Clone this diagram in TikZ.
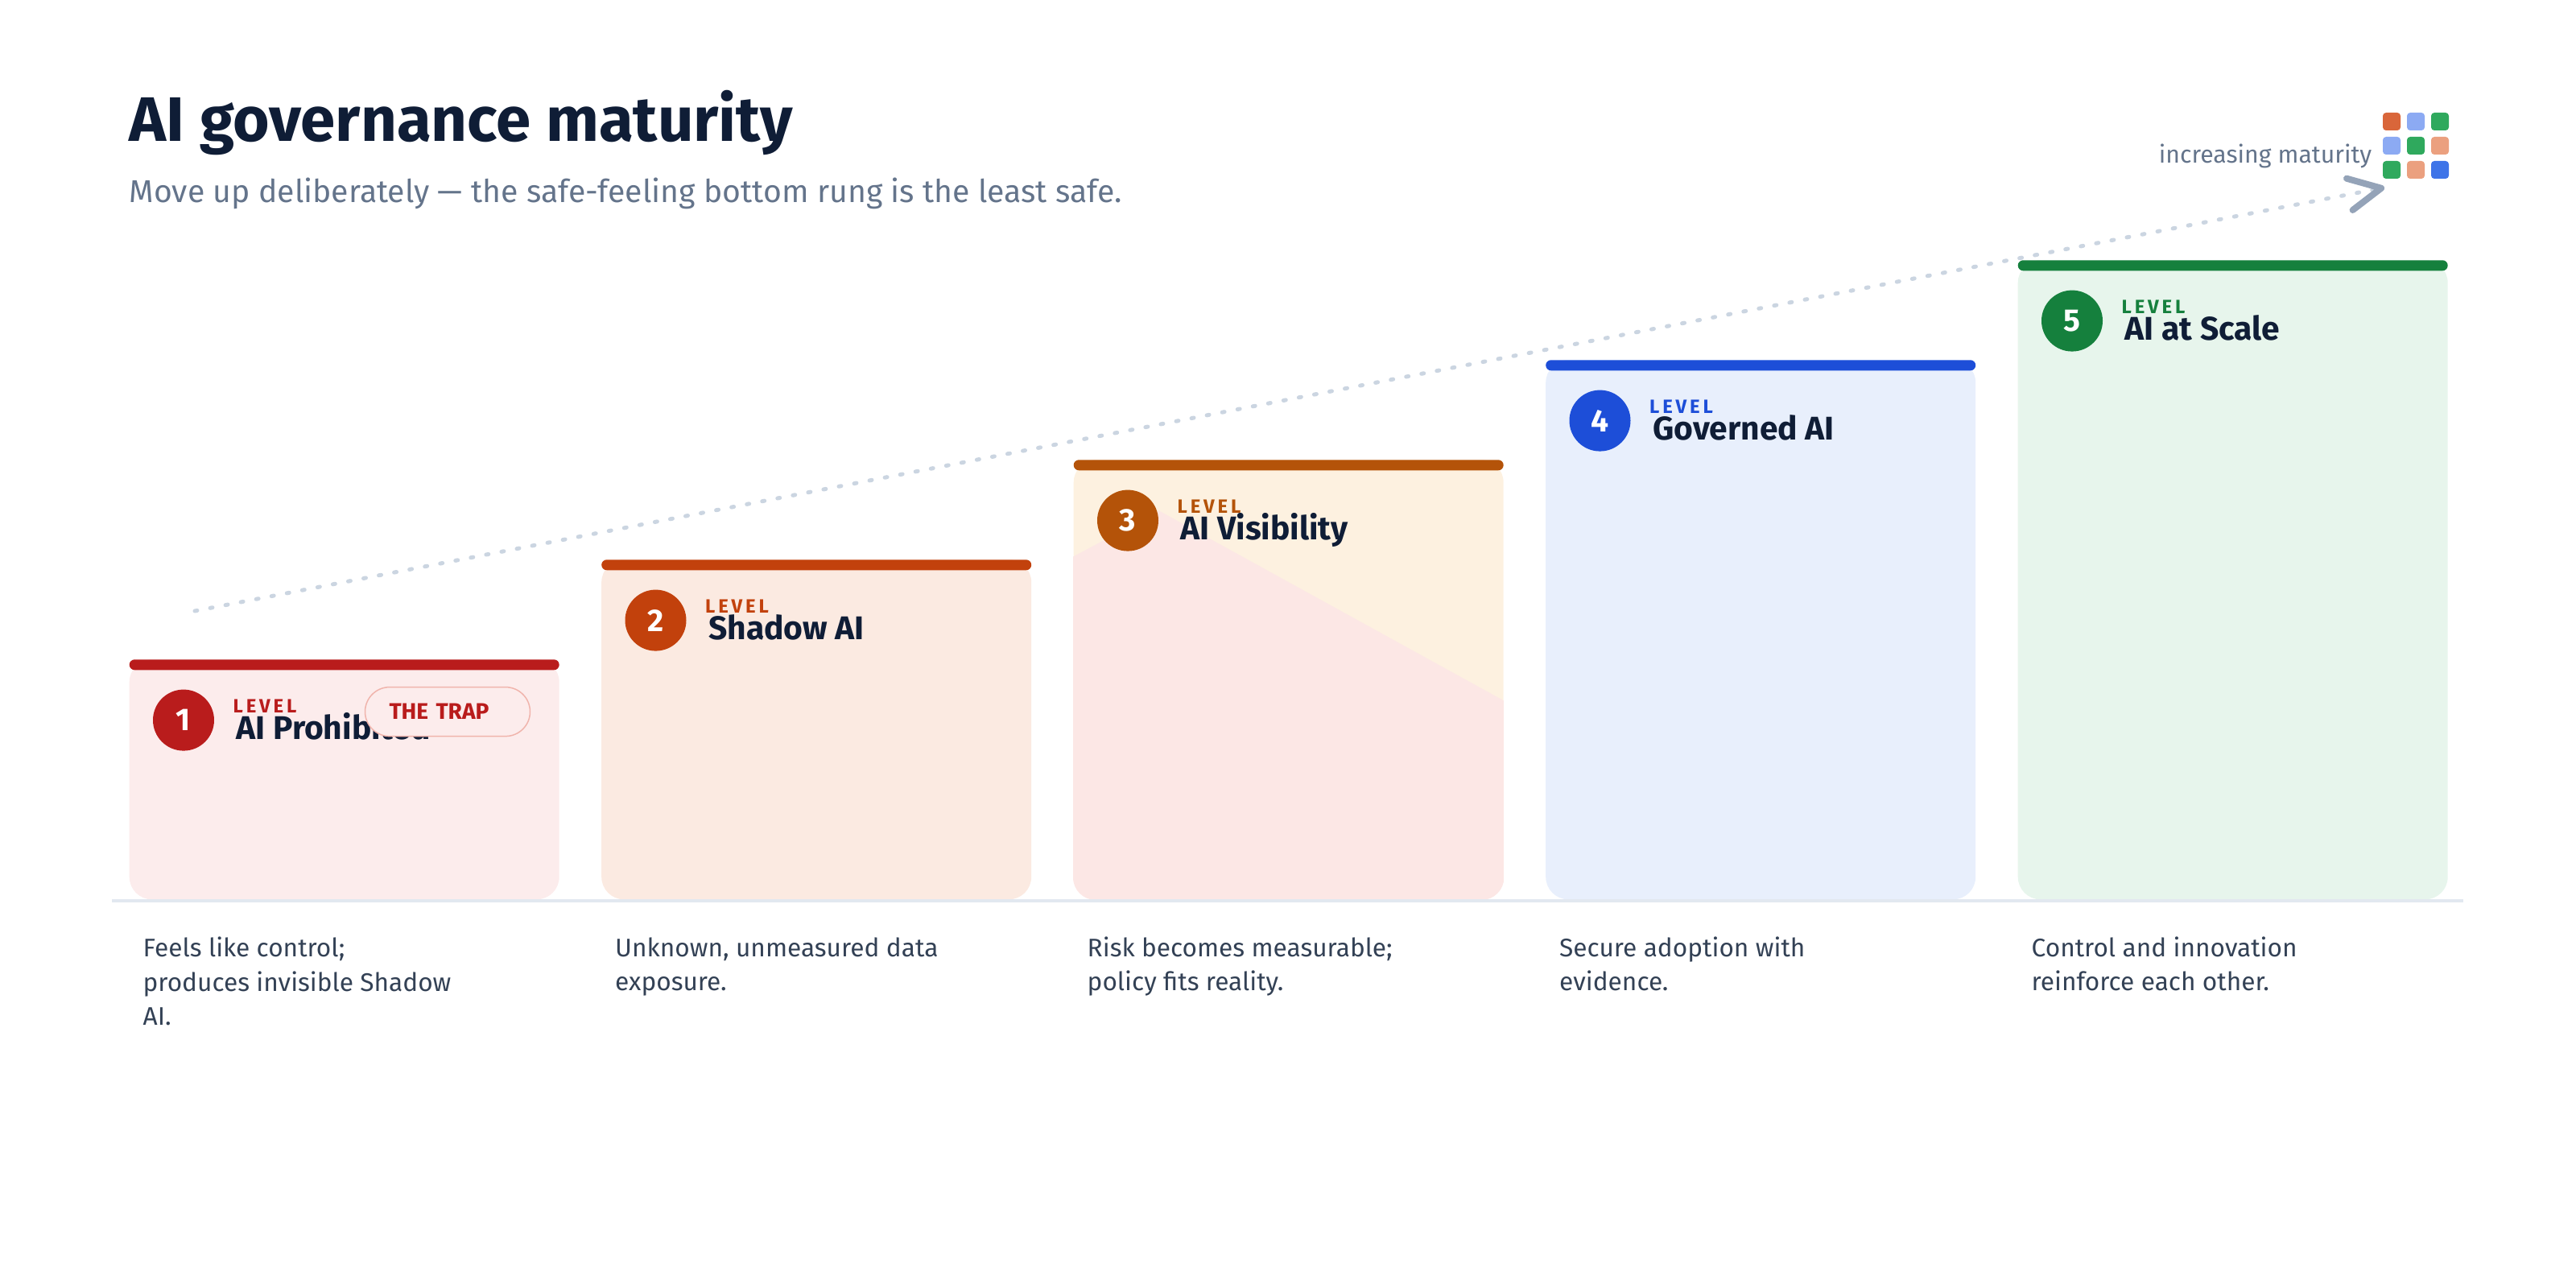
\documentclass[tikz,border=0pt]{standalone}
\usepackage{fontspec}
\setmainfont{Fira Sans}
\usepackage{tikz}
\usetikzlibrary{arrows.meta, positioning, calc}

\definecolor{ink}{HTML}{0F1D36}
\definecolor{mist}{HTML}{64748B}
\definecolor{slate}{HTML}{334155}
\definecolor{floor}{HTML}{E2E8F0}
\definecolor{dots}{HTML}{CBD5E1}
\definecolor{chev}{HTML}{94A3B8}
\definecolor{redA}{HTML}{B91C1C}
\definecolor{redbg}{HTML}{FCECEC}
\definecolor{trapline}{HTML}{F0B4AC}
\definecolor{orangeA}{HTML}{C2410C}
\definecolor{orangebg}{HTML}{FBEAE1}
\definecolor{amberA}{HTML}{B45309}
\definecolor{amberbg}{HTML}{FDF1E0}
\definecolor{riskbg}{HTML}{FCE7E5}
\definecolor{blueA}{HTML}{1D4ED8}
\definecolor{bluebg}{HTML}{E8EFFC}
\definecolor{greenA}{HTML}{15803D}
\definecolor{greenbg}{HTML}{E7F5EC}
\definecolor{tileO}{HTML}{D9663A}
\definecolor{tileL}{HTML}{8CAAF3}
\definecolor{tileG}{HTML}{2FA95D}
\definecolor{tileS}{HTML}{EBA07F}
\definecolor{tileB}{HTML}{3E74E8}

\newcommand{\fTitle}{\fontsize{22.2pt}{26pt}\selectfont\bfseries}
\newcommand{\fSub}{\fontsize{11.15pt}{14pt}\selectfont}
\newcommand{\fName}{\fontsize{11.6pt}{14pt}\selectfont\bfseries}
\newcommand{\fLevel}{\fontsize{6.8pt}{8pt}\selectfont\bfseries\addfontfeatures{LetterSpace=16}}
\newcommand{\fNum}{\fontsize{11.1pt}{13pt}\selectfont\bfseries}
\newcommand{\fTrap}{\fontsize{8.0pt}{9pt}\selectfont\bfseries}
\newcommand{\fDesc}{\fontsize{9.0pt}{12.2pt}\selectfont}
\newcommand{\fTag}{\fontsize{8.6pt}{10pt}\selectfont}

\begin{document}
\begin{tikzpicture}[
    rung/.style={rectangle, rounded corners=0.28cm, inner sep=0pt,
                 minimum width=5.34cm, anchor=south west},
    rungbar/.style={rectangle, rounded corners=0.065cm, inner sep=0pt,
                    minimum width=5.34cm, minimum height=0.13cm, anchor=north west},
    badge/.style={circle, inner sep=0pt, minimum size=0.76cm, text=white, font=\fNum},
    lvl/.style={anchor=base west, inner sep=0pt, font=\fLevel},
    rungname/.style={anchor=base west, inner sep=0pt, text=ink, font=\fName},
    desc/.style={anchor=base west, inner sep=0pt, align=left, text=slate, font=\fDesc},
    trap/.style={rectangle, rounded corners=0.305cm, draw=trapline, line width=0.015cm,
                 fill=redbg, text=redA, font=\fTrap, minimum height=0.61cm,
                 text width=1.45cm, align=left, inner xsep=0.30cm, inner ysep=0pt},
    tile/.style={rectangle, rounded corners=0.04cm, inner sep=0pt, minimum size=0.22cm},
    trend/.style={draw=dots, line width=0.05cm, line cap=round,
                  dash pattern=on 0.03cm off 0.164cm,
                  -{Straight Barb[length=0.40cm, width=0.40cm, line width=0.08cm, color=chev, round]}}
]
  \useasboundingbox (0,0) rectangle (32,-16);

  \node[anchor=base west, inner sep=0pt, text=ink, font=\fTitle] (title) at (1.60,-1.76) {AI governance maturity};
  \node[anchor=base west, inner sep=0pt, text=mist, font=\fSub] (subtitle) at (1.60,-2.52)
       {Move up deliberately — the safe-feeling bottom rung is the least safe.};

  \coordinate (trendstart) at (2.42,-7.59);
  \coordinate (trendtip)   at (29.62,-2.33);
  \draw[trend] (trendstart) -- (trendtip);

  \node[anchor=base east, inner sep=0pt, text=mist, font=\fTag] (tag) at (29.47,-2.03) {increasing maturity};
  \node[tile, fill=tileO] (t11) at (29.71,-1.51) {};
  \node[tile, fill=tileL] (t12) at (30.01,-1.51) {};
  \node[tile, fill=tileG] (t13) at (30.31,-1.51) {};
  \node[tile, fill=tileL] (t21) at (29.71,-1.81) {};
  \node[tile, fill=tileG] (t22) at (30.01,-1.81) {};
  \node[tile, fill=tileS] (t23) at (30.31,-1.81) {};
  \node[tile, fill=tileG] (t31) at (29.71,-2.11) {};
  \node[tile, fill=tileS] (t32) at (30.01,-2.11) {};
  \node[tile, fill=tileB] (t33) at (30.31,-2.11) {};

  \node[rung, fill=redbg,    minimum height=2.98cm] (prohib) at (1.60,-11.18)   {};
  \node[rung, fill=orangebg, minimum height=4.22cm] (shadow) at (7.465,-11.18)  {};
  \node[rung, fill=amberbg,  minimum height=5.46cm] (visib)  at (13.33,-11.18)  {};
  \node[rung, fill=bluebg,   minimum height=6.70cm] (govern) at (19.195,-11.18) {};
  \node[rung, fill=greenbg,  minimum height=7.94cm] (scale)  at (25.06,-11.18)  {};

  \begin{scope}
    \clip[rounded corners=0.28cm] (visib.north west) rectangle (visib.south east);
    \fill[riskbg] ($(visib.north west)+(0,-1.21)$) -- ($(visib.north west)+(1.07,-0.64)$)
                  -- ($(visib.north east)+(0,-3.00)$) -- (visib.south east) -- (visib.south west) -- cycle;
  \end{scope}

  \coordinate (floorL) at (1.39,-11.19);
  \coordinate (floorR) at (30.60,-11.19);
  \draw[floor, line width=0.04cm] (floorL) -- (floorR);

  % level 1
  \node[rungbar, fill=redA] (prohibbar) at (prohib.north west) {};
  \node[badge, fill=redA] (prohibnum) at ($(prohib.north west)+(0.68,-0.76)$) {1};
  \node[lvl, text=redA] (prohiblvl) at ($(prohib.north west)+(1.29,-0.67)$) {LEVEL};
  \node[rungname] (prohibname) at ($(prohib.north west)+(1.33,-0.995)$) {AI Prohibited};
  \node[trap] (trap) at ($(prohib.north west)+(3.96,-0.655)$) {THE TRAP};
  \node[desc] (prohibdesc) at ($(prohib.south west)+(0.17,-1.56)$) {Feels like control;\\produces invisible Shadow\\AI.};

  % level 2
  \node[rungbar, fill=orangeA] (shadowbar) at (shadow.north west) {};
  \node[badge, fill=orangeA] (shadownum) at ($(shadow.north west)+(0.68,-0.76)$) {2};
  \node[lvl, text=orangeA] (shadowlvl) at ($(shadow.north west)+(1.29,-0.67)$) {LEVEL};
  \node[rungname] (shadowname) at ($(shadow.north west)+(1.33,-0.995)$) {Shadow AI};
  \node[desc] (shadowdesc) at ($(shadow.south west)+(0.17,-1.13)$) {Unknown, unmeasured data\\exposure.};

  % level 3
  \node[rungbar, fill=amberA] (visibbar) at (visib.north west) {};
  \node[badge, fill=amberA] (visibnum) at ($(visib.north west)+(0.68,-0.76)$) {3};
  \node[lvl, text=amberA] (visiblvl) at ($(visib.north west)+(1.29,-0.67)$) {LEVEL};
  \node[rungname] (visibname) at ($(visib.north west)+(1.33,-0.995)$) {AI Visibility};
  \node[desc] (visibdesc) at ($(visib.south west)+(0.17,-1.13)$) {Risk becomes measurable;\\policy fits reality.};

  % level 4
  \node[rungbar, fill=blueA] (governbar) at (govern.north west) {};
  \node[badge, fill=blueA] (governnum) at ($(govern.north west)+(0.68,-0.76)$) {4};
  \node[lvl, text=blueA] (governlvl) at ($(govern.north west)+(1.29,-0.67)$) {LEVEL};
  \node[rungname] (governname) at ($(govern.north west)+(1.33,-0.995)$) {Governed AI};
  \node[desc] (governdesc) at ($(govern.south west)+(0.17,-1.13)$) {Secure adoption with\\evidence.};

  % level 5
  \node[rungbar, fill=greenA] (scalebar) at (scale.north west) {};
  \node[badge, fill=greenA] (scalenum) at ($(scale.north west)+(0.68,-0.76)$) {5};
  \node[lvl, text=greenA] (scalelvl) at ($(scale.north west)+(1.29,-0.67)$) {LEVEL};
  \node[rungname] (scalename) at ($(scale.north west)+(1.33,-0.995)$) {AI at Scale};
  \node[desc] (scaledesc) at ($(scale.south west)+(0.17,-1.13)$) {Control and innovation\\reinforce each other.};
\end{tikzpicture}
\end{document}
